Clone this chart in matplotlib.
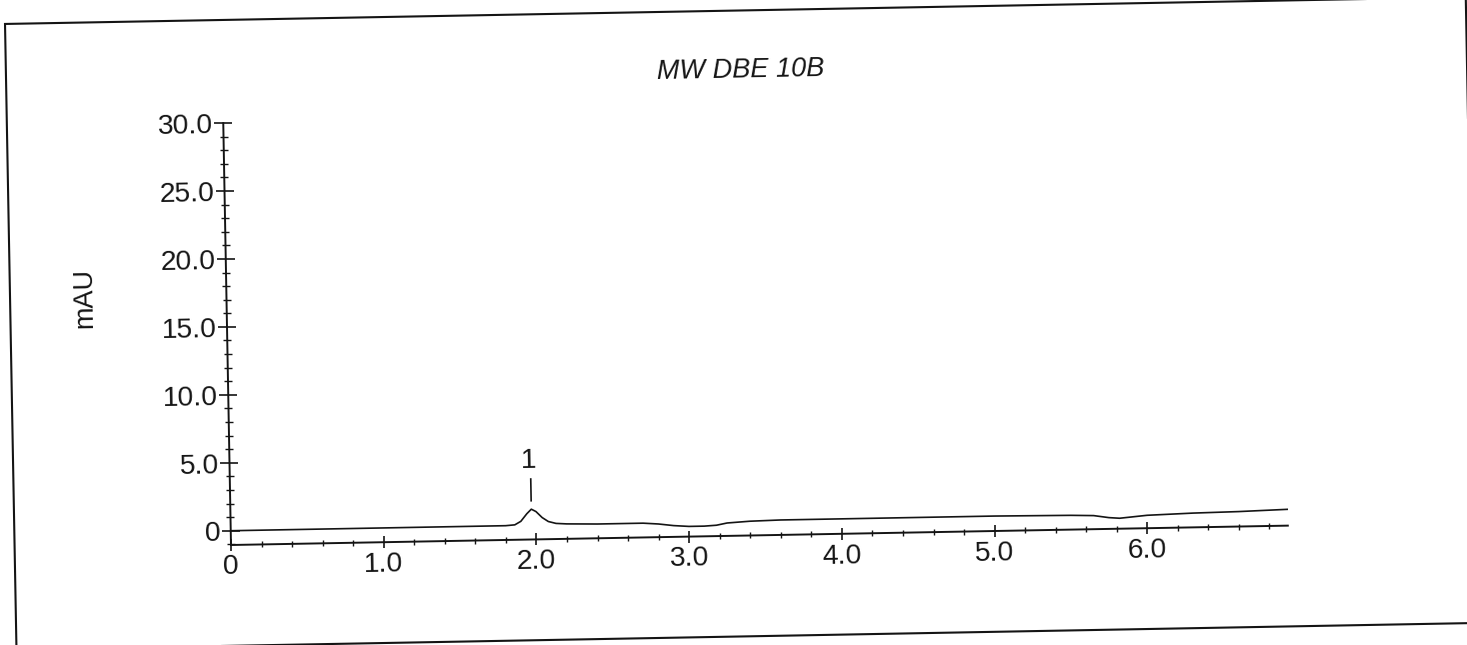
import matplotlib
matplotlib.use("Agg")
import matplotlib.pyplot as plt
import matplotlib.transforms as mtransforms
from matplotlib.axes import Axes
from matplotlib.patches import Rectangle
from matplotlib.ticker import FixedLocator, FixedFormatter, MultipleLocator

# ---------------------------------------------------------------- data
title_text = "MW DBE 10B"
y_label = "mAU"

retention_min = [0.00, 0.50, 1.00, 1.50, 1.80, 1.86, 1.90, 1.94, 1.97, 2.00,
                 2.04, 2.08, 2.13, 2.20, 2.40, 2.60, 2.70, 2.80, 2.90, 3.00,
                 3.10, 3.18, 3.25, 3.40, 3.60, 4.00, 4.50, 5.00, 5.50, 5.65,
                 5.75, 5.82, 5.90, 6.00, 6.30, 6.60, 6.92]
signal_mau = [0.00, 0.00, 0.00, 0.00, 0.00, 0.05, 0.30, 0.85, 1.18, 1.00,
              0.55, 0.25, 0.10, 0.05, 0.00, 0.00, 0.00, -0.08, -0.22, -0.30,
              -0.30, -0.25, -0.10, 0.00, 0.05, 0.05, 0.05, 0.05, 0.00, -0.05,
              -0.22, -0.28, -0.20, -0.10, 0.00, 0.05, 0.15]

peak_times = [1.97]
peak_labels = ["1"]

x_ticks = [0, 1, 2, 3, 4, 5, 6]
x_tick_labels = ["0", "1.0", "2.0", "3.0", "4.0", "5.0", "6.0"]
y_ticks = [0, 5, 10, 15, 20, 25, 30]
y_tick_labels = ["0", "5.0", "10.0", "15.0", "20.0", "25.0", "30.0"]

x_range = (0.0, 6.92)
y_range = (-1.05, 30.0)

# ---------------------------------------------------------------- layout
W, H, DPI = 1467, 645, 100
TILT = 1.05                 # the printed page sits slightly rotated
PIVOT = (231.0, 100.0)      # rotation centre, display pixels

plt.rcParams["font.family"] = ["Liberation Sans", "DejaVu Sans"]
INK = "#141414"
FS = 19.5
FS_TICK = 20.3


class TiltedAxes(Axes):
    """Ordinary cartesian axes drawn on a slightly rotated sheet."""
    name = "tilted"

    def _set_lim_and_transforms(self):
        tilt = mtransforms.Affine2D().rotate_deg_around(PIVOT[0], PIVOT[1], TILT)
        self.transAxes = mtransforms.BboxTransformTo(self.bbox) + tilt
        self.transScale = mtransforms.TransformWrapper(mtransforms.IdentityTransform())
        self.transLimits = mtransforms.BboxTransformFrom(
            mtransforms.TransformedBbox(self._viewLim, self.transScale))
        self.transData = self.transScale + (self.transLimits + self.transAxes)
        data_to_axes = self.transScale + self.transLimits
        self._xaxis_transform = mtransforms.blended_transform_factory(
            data_to_axes, mtransforms.IdentityTransform()) + self.transAxes
        self._yaxis_transform = mtransforms.blended_transform_factory(
            mtransforms.IdentityTransform(), data_to_axes) + self.transAxes


fig = plt.figure(figsize=(W / DPI, H / DPI), dpi=DPI, facecolor="white")

ax = fig.add_axes([PIVOT[0] / W, PIVOT[1] / H, 1057 / W, 422 / H],
                  axes_class=TiltedAxes)
ax.set_facecolor("none")
ax.set_xlim(*x_range)
ax.set_ylim(*y_range)

for side in ("top", "right"):
    ax.spines[side].set_visible(False)
for side in ("left", "bottom"):
    ax.spines[side].set_linewidth(1.4)
    ax.spines[side].set_color(INK)

ax.xaxis.set_major_locator(FixedLocator(x_ticks))
ax.xaxis.set_major_formatter(FixedFormatter(x_tick_labels))
ax.xaxis.set_minor_locator(MultipleLocator(0.2))
ax.yaxis.set_major_locator(FixedLocator(y_ticks))
ax.yaxis.set_major_formatter(FixedFormatter(y_tick_labels))
ax.yaxis.set_minor_locator(MultipleLocator(1))

ax.tick_params(axis="y", which="major", direction="inout", length=13,
               width=1.2, color=INK, labelsize=FS_TICK, labelcolor=INK, pad=0.8,
               labelrotation=TILT)
ax.tick_params(axis="y", which="minor", direction="inout", length=6,
               width=1.0, color=INK)
ax.tick_params(axis="x", which="major", direction="inout", length=8,
               width=1.2, color=INK, labelsize=FS_TICK, labelcolor=INK, pad=2.5,
               labelrotation=TILT)
ax.tick_params(axis="x", which="minor", direction="inout", length=4,
               width=1.0, color=INK)

# chromatogram trace
ax.plot(retention_min, signal_mau, color=INK, lw=1.2, solid_joinstyle="round")

# peak numbering
for t, lab in zip(peak_times, peak_labels):
    ax.plot([t, t], [1.8, 3.4], color=INK, lw=1.2)
    ax.text(t - 0.01, 3.75, lab, ha="center", va="bottom", fontsize=FS_TICK,
            color=INK, rotation=TILT, rotation_mode="anchor")

# sheet texts
fig.text(741 / W, 1 - 70 / H, title_text, ha="center", va="center",
         fontsize=FS, fontstyle="italic", color=INK, rotation=TILT,
         rotation_mode="anchor")
fig.text(85 / W, 1 - 298 / H, y_label, ha="center", va="center",
         fontsize=FS, color=INK, rotation=90 + TILT, rotation_mode="anchor")

# printed frame around the report area
frame_tr = (mtransforms.Affine2D().rotate_deg_around(PIVOT[0], PIVOT[1], TILT)
            + mtransforms.Affine2D().scale(1 / W, 1 / H) + fig.transFigure)
fig.patches.append(Rectangle((14.6, -0.8), 1461.0, 625.9, fill=False,
                             edgecolor=INK, lw=1.5, transform=frame_tr,
                             figure=fig))

fig.savefig("out.png", dpi=DPI, facecolor="white")
